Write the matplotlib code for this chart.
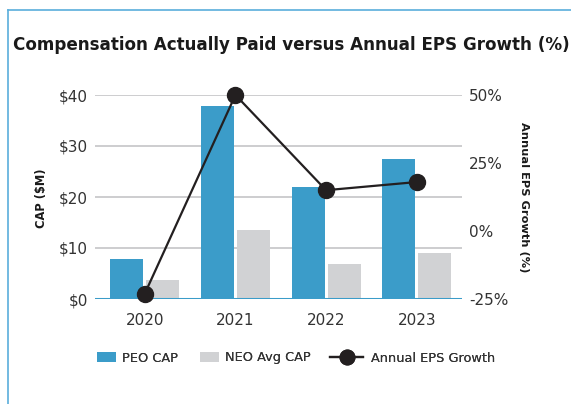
import matplotlib
matplotlib.use("Agg")
import matplotlib.pyplot as plt
from matplotlib.lines import Line2D
from matplotlib.patches import Patch
import numpy as np

# Chart data
years = ["2020", "2021", "2022", "2023"]
peo_cap = [7.9, 37.8, 22.0, 27.5]          # $M
neo_avg_cap = [3.8, 13.6, 6.9, 9.1]        # $M
eps_growth = [-23.0, 50.0, 15.0, 18.0]     # %
left_ticks = [0, 10, 20, 30, 40]
left_tick_labels = ["$0", "$10", "$20", "$30", "$40"]
right_ticks = [-25, 0, 25, 50]
right_tick_labels = ["-25%", "0%", "25%", "50%"]

BLUE = "#3b9cc9"
GRAY = "#d1d2d4"
DARK = "#231f20"
TEXT = "#333333"
GRID = "#c9c9cb"
FRAME = "#5aaedc"

W, H = 571, 404
fig = plt.figure(figsize=(W / 100, H / 100), dpi=100)
fig.patch.set_facecolor("white")

def px(x0, y0, x1, y1):
    return [x0 / W, 1 - y1 / H, (x1 - x0) / W, (y1 - y0) / H]

# Panel frame: top and left rule
fig.add_artist(Line2D([8 / W, 8 / W], [0, 1 - 10 / H], color=FRAME, lw=1.2,
                      transform=fig.transFigure))
fig.add_artist(Line2D([8 / W, 1], [1 - 10 / H, 1 - 10 / H], color=FRAME, lw=1.2,
                      transform=fig.transFigure))

fig.text(13 / W, 1 - 45 / H, "Compensation Actually Paid versus Annual EPS Growth (%)",
         fontsize=12.1, fontweight="bold", color="#1a1a1a", va="center", ha="left")

ax = fig.add_axes(px(95, 95, 462, 299))
x = np.arange(len(years))
off = 0.198
bw = 0.364
ax.bar(x - off, peo_cap, bw, color=BLUE, zorder=2)
ax.bar(x + off, neo_avg_cap, bw, color=GRAY, zorder=2)
ax.set_xlim(-0.55, 3.5)
ax.set_ylim(0, 40)
for t in left_ticks[1:]:
    ax.axhline(t, color=GRID, lw=1.3, zorder=1)
ax.axhline(0, color=BLUE, lw=2.2, zorder=3)
ax.set_yticks(left_ticks)
ax.set_yticklabels(left_tick_labels)
ax.set_xticks(x)
ax.set_xticklabels(years)
ax.tick_params(length=0, labelsize=11, colors=TEXT, pad=5)
ax.tick_params(axis="x", pad=10)
for s in ax.spines.values():
    s.set_visible(False)

ax2 = ax.twinx()
ax2.set_ylim(-25, 50)
ax2.plot(x, eps_growth, color=DARK, lw=1.6, marker="o", markersize=11.5,
         zorder=5, clip_on=False)
ax2.set_yticks(right_ticks)
ax2.set_yticklabels(right_tick_labels)
ax2.tick_params(length=0, labelsize=11, colors=TEXT, pad=5)
for s in ax2.spines.values():
    s.set_visible(False)

fig.text(42 / W, 1 - 198 / H, "CAP ($M)", rotation=90, fontsize=8.3,
         fontweight="bold", color="#1a1a1a", ha="center", va="center")
fig.text(524 / W, 1 - 197 / H, "Annual EPS Growth (%)", rotation=270, fontsize=8.2,
         fontweight="bold", color="#1a1a1a", ha="center", va="center")

# Legend: one entry per key so each key can have its own length
LEG_FS = 9.3
leg_y = 1 - 358 / H
entries = [
    (Patch(facecolor=BLUE, edgecolor="none"), "PEO CAP", 97, 1.47, 0.5),
    (Patch(facecolor=GRAY, edgecolor="none"), "NEO Avg CAP", 200, 1.47, 0.5),
    (Line2D([0], [0], color=DARK, lw=1.6, marker="o", markersize=10.5),
     "Annual EPS Growth", 330, 2.56, 0.62),
]
for handle, label, x0, hl, pad in entries:
    leg = fig.legend([handle], [label], loc="center left",
                     bbox_to_anchor=(x0 / W, leg_y), frameon=False,
                     fontsize=LEG_FS, labelcolor=TEXT, handlelength=hl,
                     handleheight=0.75, handletextpad=pad, borderpad=0,
                     borderaxespad=0, numpoints=1)
    fig.add_artist(leg)

fig.savefig("out.png", dpi=100, facecolor="white")
